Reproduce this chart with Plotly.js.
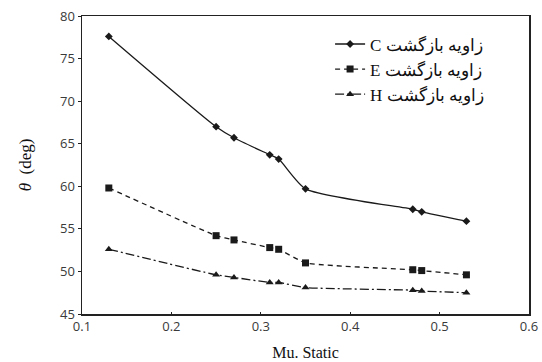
<!DOCTYPE html>
<html><head><meta charset="utf-8">
<script src="https://cdn.plot.ly/plotly-3.0.1.min.js"></script>
<style>body{margin:0;background:#fff}#chart{width:542px;height:362px}</style>
</head><body><div id="chart"></div>
<script>
const muStatic = [0.13, 0.25, 0.27, 0.31, 0.32, 0.35, 0.47, 0.48, 0.53];
const angleC = [77.6, 67.0, 65.7, 63.7, 63.2, 59.7, 57.3, 57.0, 55.9];
const angleE = [59.8, 54.2, 53.7, 52.8, 52.6, 51.0, 50.2, 50.1, 49.6];
const angleH = [52.6, 49.6, 49.3, 48.7, 48.7, 48.1, 47.8, 47.7, 47.5];
const seriesNames = ['\u202Bزاویه بازگشت C\u202C', '\u202Bزاویه بازگشت E\u202C', '\u202Bزاویه بازگشت H\u202C'];
const xTicks = [0.1, 0.2, 0.3, 0.4, 0.5, 0.6];
const yTicks = [45, 50, 55, 60, 65, 70, 75, 80];

const ink = '#1a1a1a';
const traces = [
  {x: muStatic, y: angleC, name: seriesNames[0], legendgroup: 'c', mode: 'lines+markers',
   line: {color: ink, width: 1.3, dash: 'solid', shape: 'spline', smoothing: 0.6},
   marker: {symbol: 'diamond', size: 6, color: ink}},
  {x: muStatic, y: angleE, name: seriesNames[1], legendgroup: 'e', mode: 'lines+markers',
   line: {color: ink, width: 1.3, dash: '5px,4px', shape: 'spline', smoothing: 0.4},
   marker: {symbol: 'square', size: 7, color: ink}},
  {x: muStatic, y: angleH, name: seriesNames[2], legendgroup: 'h', mode: 'lines+markers',
   line: {color: ink, width: 1.3, dash: '9px,3px,2px,3px', shape: 'spline', smoothing: 0.4},
   marker: {symbol: 'triangle-up', size: 7, color: ink}}
];
const layout = {
  width: 542, height: 362,
  margin: {l: 82, r: 13, t: 16, b: 48},
  paper_bgcolor: '#fff', plot_bgcolor: '#fff',
  font: {family: 'Open Sans, sans-serif', size: 13, color: '#3a3a3a'},
  showlegend: true,
  legend: {x: 0.555, y: 0.965, xanchor: 'left', yanchor: 'top', bgcolor: 'rgba(0,0,0,0)',
           font: {family: 'Liberation Serif, serif', size: 17, color: '#111'},
           tracegroupgap: 0, itemwidth: 30},
  xaxis: {range: [0.1, 0.6], tickvals: xTicks, ticktext: xTicks.map(v => v.toFixed(1)),
          showgrid: false, zeroline: false, showline: true, linecolor: '#222', linewidth: 1.5,
          mirror: true, ticks: 'inside', ticklen: 2, tickcolor: '#222',
          title: {text: 'Mu. Static', font: {family: 'Liberation Serif, serif', size: 16, color: '#111'}, standoff: 12}},
  yaxis: {range: [45, 80], tickvals: yTicks, showgrid: false, zeroline: false, showline: true,
          linecolor: '#222', linewidth: 1.5, mirror: true, ticks: 'outside', ticklen: 3, tickcolor: '#222',
          title: {text: '<i>θ</i>  (deg)', font: {family: 'Liberation Serif, serif', size: 17, color: '#111'}, standoff: 24}}
};
Plotly.newPlot('chart', traces, layout, {displayModeBar: false, staticPlot: true});
</script></body></html>
